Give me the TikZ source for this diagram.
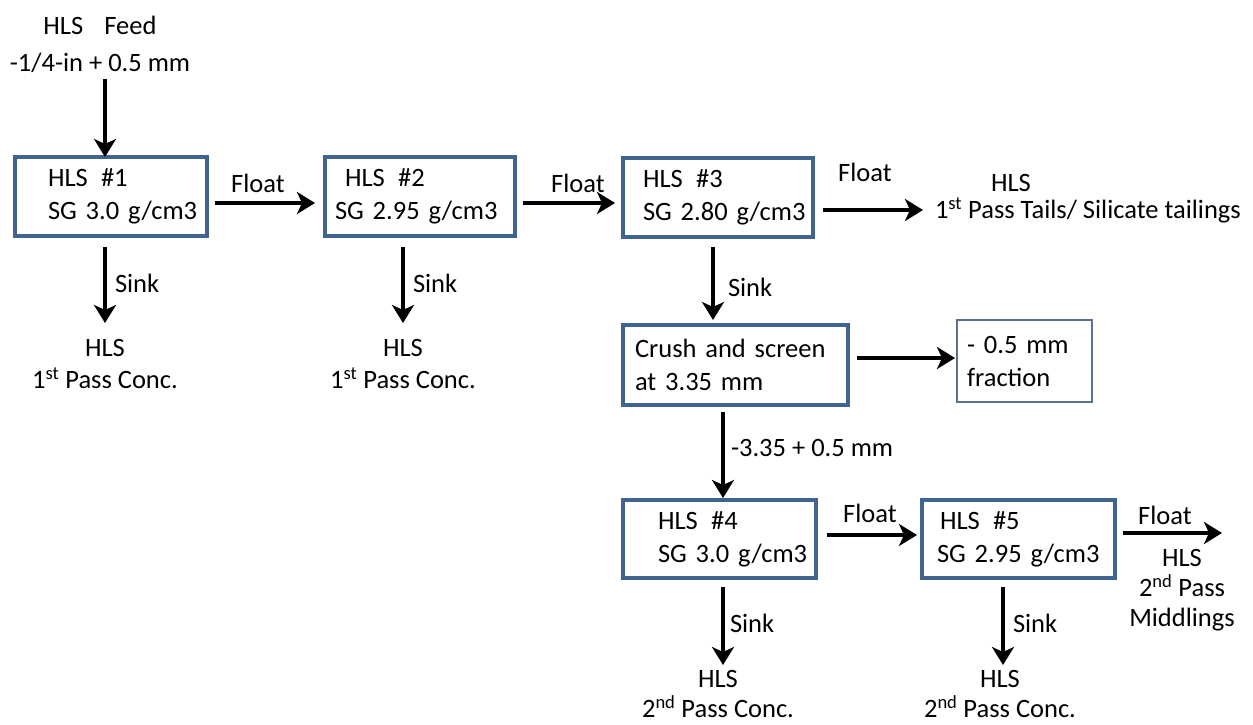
\documentclass[tikz,border=0pt]{standalone}
\usepackage{fontspec}
\setmainfont{Carlito}
\usetikzlibrary{arrows.meta,calc}
\definecolor{boxblue}{HTML}{41638F}
\definecolor{fracblue}{HTML}{5A7190}
\begin{document}
\begin{tikzpicture}[x=1pt,y=-1pt,
  txt/.style={font=\fontsize{26.5}{33}\selectfont, inner sep=0pt, outer sep=0pt},
  procbox/.style={txt, draw=boxblue, line width=4.5pt, rectangle, anchor=north west, align=left, inner xsep=0pt, inner ysep=0pt},
  fracbox/.style={procbox, draw=fracblue, line width=2.5pt},
  flow/.style={line width=4.5pt, -{Stealth[length=18pt,width=22pt,inset=5pt]}},
  res/.style={txt, align=center, anchor=north, font=\fontsize{26.5}{32}\selectfont},
]
\useasboundingbox (0,0) rectangle (1253,725);

% feed
\node[txt, align=center, anchor=north, font=\fontsize{26.5}{37}\selectfont] (feed) at (100,16.5) {HLS\hspace{0.8em}Feed\\-1/4-in + 0.5 mm};

% process boxes
\node[procbox, minimum width=192pt, minimum height=79pt, text width=192pt] (b1) at (15,157)
  {\hspace*{33pt}HLS\hspace{0.5em}\#1\\\hspace*{33pt}SG 3.0 g/cm3};
\node[procbox, minimum width=190pt, minimum height=79pt, text width=190pt] (b2) at (325,157)
  {\hspace*{20pt}HLS\hspace{0.5em}\#2\\\hspace*{10pt}SG 2.95 g/cm3};
\node[procbox, minimum width=190pt, minimum height=79pt, text width=190pt] (b3) at (623,158)
  {\hspace*{20pt}HLS\hspace{0.5em}\#3\\\hspace*{20pt}SG 2.80 g/cm3};
\node[procbox, minimum width=225pt, minimum height=80pt, text width=225pt] (crush) at (623,325)
  {\hspace*{12pt}Crush and screen\\\hspace*{12pt}at 3.35 mm};
\node[fracbox, minimum width=135pt, minimum height=82pt, text width=135pt] (frac) at (957,320)
  {\hspace*{10pt}- 0.5 mm\\\hspace*{10pt}fraction};
\node[procbox, minimum width=193pt, minimum height=78pt, text width=193pt] (b4) at (623,500)
  {\hspace*{35pt}HLS\hspace{0.5em}\#4\\\hspace*{35pt}SG 3.0 g/cm3};
\node[procbox, minimum width=193pt, minimum height=78pt, text width=193pt] (b5) at (922,500)
  {\hspace*{18pt}HLS\hspace{0.5em}\#5\\\hspace*{15pt}SG 2.95 g/cm3};

% products
\node[res] (r1) at (105,339.5) {HLS\\1\textsuperscript{st} Pass Conc.};
\node[res] (r2) at (403,339.5) {HLS\\1\textsuperscript{st} Pass Conc.};
\node[res, font=\fontsize{26.5}{30}\selectfont] (r4) at (718,670) {HLS\\2\textsuperscript{nd} Pass Conc.};
\node[res, font=\fontsize{26.5}{30}\selectfont] (r5) at (1000,670) {HLS\\2\textsuperscript{nd} Pass Conc.};
\node[txt, align=left, anchor=north west, font=\fontsize{26.5}{27}\selectfont] (tails) at (935,174.5)
  {\hspace*{56pt}HLS\\1\textsuperscript{st} Pass Tails/ Silicate tailings};
\node[res, font=\fontsize{26.5}{30}\selectfont] (mid) at (1182,549.5) {HLS\\2\textsuperscript{nd} Pass\\Middlings};

% helper coordinates
\coordinate (fd) at ($(b1.north west)+(90,0)$);
\coordinate (f1s) at ($(b1.east)+(0,6.5)$);
\coordinate (f2s) at ($(b2.east)+(0,6.5)$);
\coordinate (f3s) at ($(b3.east)+(0,12.5)$);
\coordinate (s3s) at ($(b3.south)+(-5,0)$);
\coordinate (cfs) at ($(crush.east)+(0,-7)$);
\coordinate (ds) at ($(crush.south)+(-12.5,0)$);
\coordinate (f4s) at ($(b4.east)+(0,-4)$);
\coordinate (f5s) at ($(b5.east)+(0,-6)$);
\coordinate (f5e) at (1222,533);

% connectors
\draw[flow, shorten <=6pt] (fd |- feed.south) -- (fd);
\draw[flow, shorten <=8pt, shorten >=10pt] (f1s) -- (f1s -| b2.west);
\draw[flow, shorten <=8pt, shorten >=8pt] (f2s) -- (f2s -| b3.west);
\draw[flow, shorten <=10pt, shorten >=12pt] (f3s) -- (f3s -| tails.west);
\draw[flow, shorten <=11pt, shorten >=16.5pt] (r1.north |- b1.south) -- (r1.north);
\draw[flow, shorten <=11pt, shorten >=16.5pt] (r2.north |- b2.south) -- (r2.north);
\draw[flow, shorten <=10pt, shorten >=5pt] (s3s) -- (s3s |- crush.north);
\draw[flow, shorten <=9pt, shorten >=2pt] (cfs) -- (cfs -| frac.west);
\draw[flow, shorten <=7pt, shorten >=2pt] (ds) -- (ds |- b4.north);
\draw[flow, shorten <=11pt, shorten >=5pt] (f4s) -- (f4s -| b5.west);
\draw[flow, shorten <=8pt] (f5s) -- (f5e);
\draw[flow, shorten <=9pt, shorten >=5pt] ($(r4.north |- b4.south)+(5,0)$) -- ($(r4.north)+(5,0)$);
\draw[flow, shorten <=9pt, shorten >=5pt] ($(r5.north |- b5.south)+(3,0)$) -- ($(r5.north)+(3,0)$);

% connector labels
\node[txt] (lf1) at (258,183) {Float};
\node[txt] (lf2) at (578,183) {Float};
\node[txt] (lf3) at (865,172) {Float};
\node[txt] (lf4) at (870,513) {Float};
\node[txt] (lf5) at (1165,515) {Float};
\node[txt, anchor=west] (ls1) at (115,283) {Sink};
\node[txt, anchor=west] (ls2) at (413,283) {Sink};
\node[txt, anchor=west] (ls3) at (728,287) {Sink};
\node[txt, anchor=west] (ls4) at (730,623) {Sink};
\node[txt, anchor=west] (ls5) at (1013,623) {Sink};
\node[txt, anchor=west] (ld) at (731,448) {-3.35 + 0.5 mm};
\end{tikzpicture}
\end{document}
